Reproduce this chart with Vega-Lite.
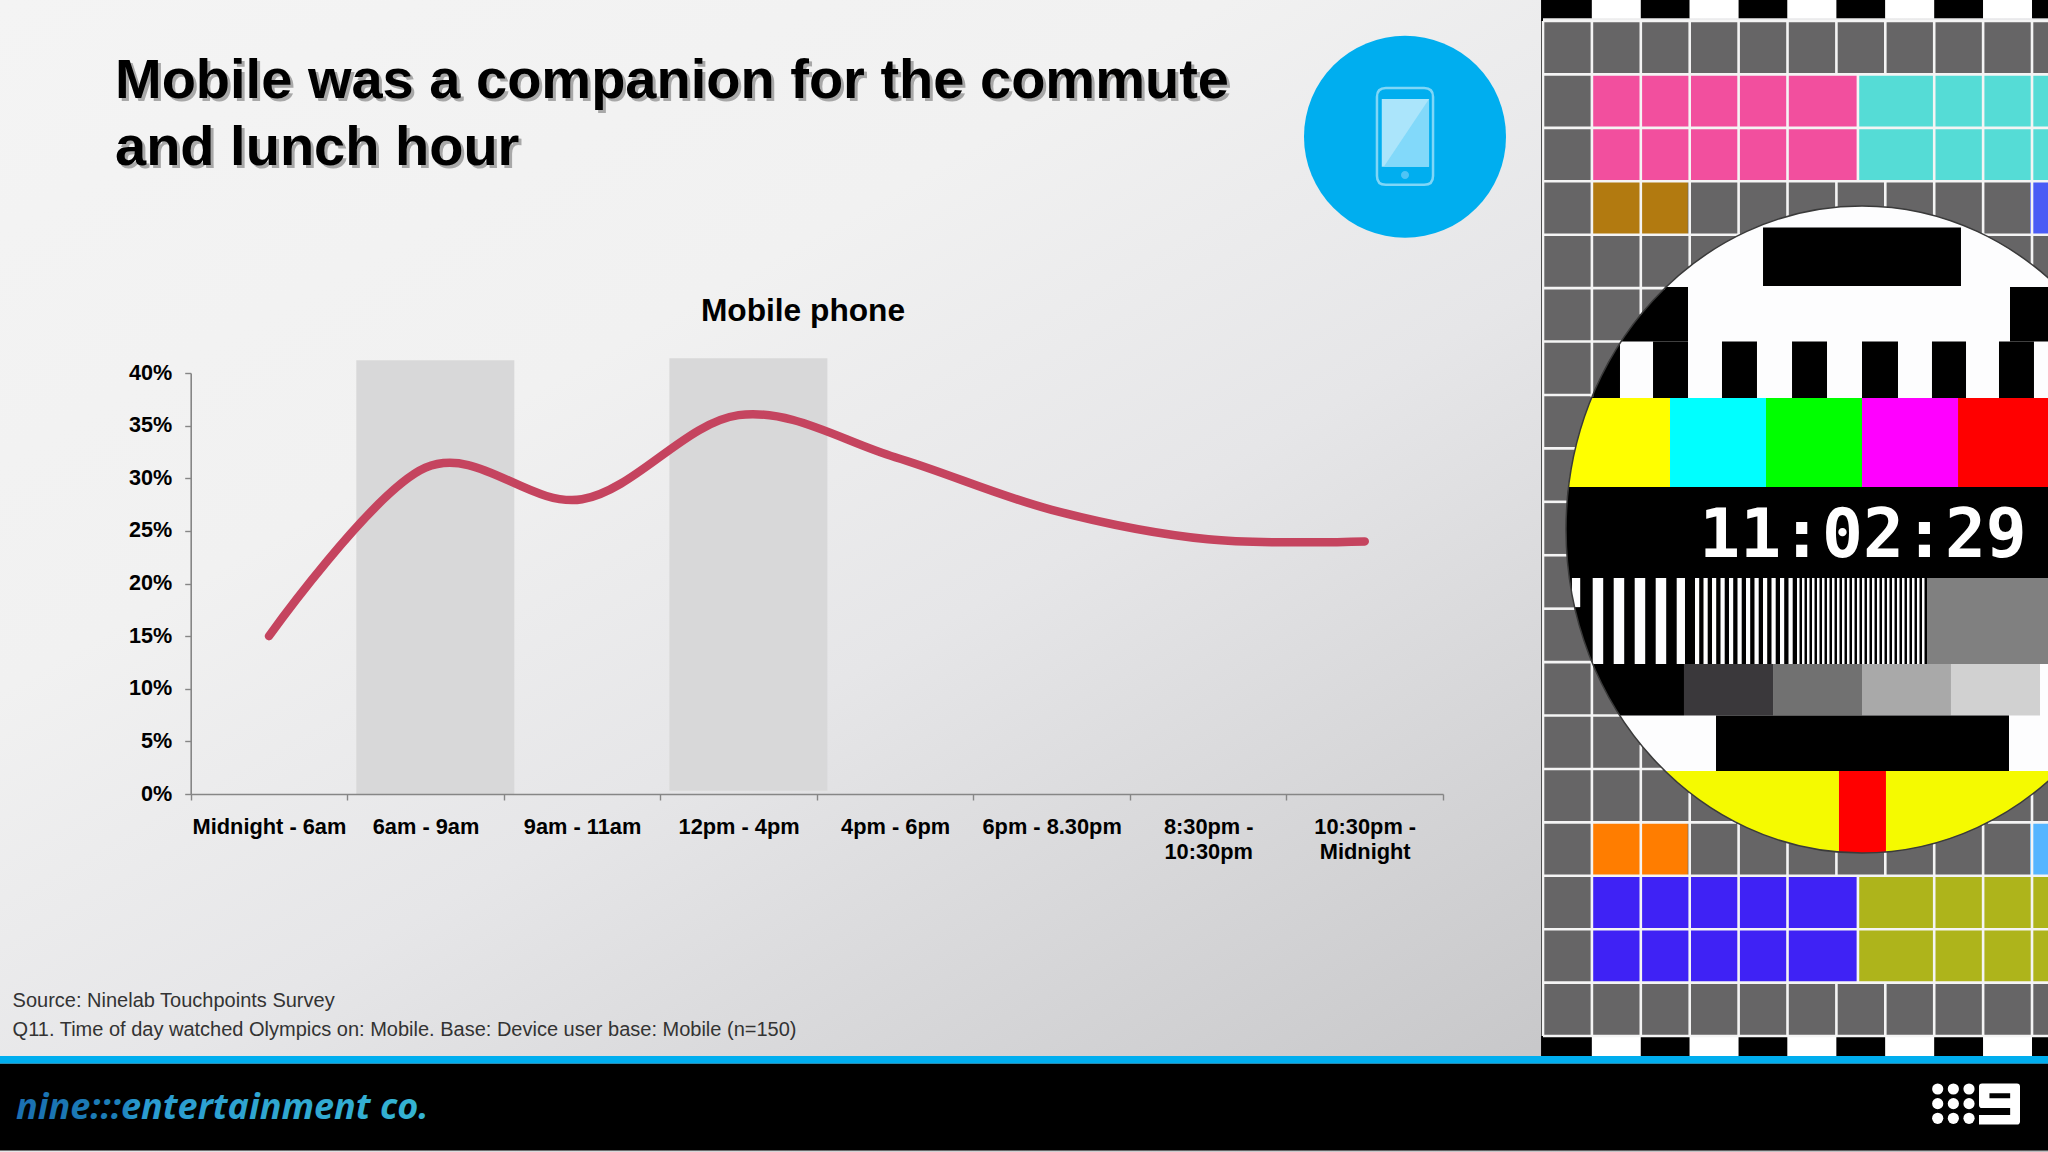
{
"$schema":"https://vega.github.io/schema/vega-lite/v6.json",
"width":2048,"height":1152,"padding":0,"autosize":{"type":"none"},
"background":"#eeeeee",
"config":{"view":{"stroke":null},"font":"Liberation Sans"},
"resolve":{"scale":{"x":"independent","y":"independent","color":"independent","shape":"independent","strokeDash":"independent"},"axis":{"x":"independent","y":"independent"}},
"layer":[
{"data":{"values":[{"area":"slide"}]},"mark":{"type":"rect","fill":{"gradient":"linear","x1":0,"y1":0,"x2":1,"y2":1,"stops":[{"offset":0,"color":"#f4f4f4"},{"offset":0.3,"color":"#f1f1f1"},{"offset":0.5,"color":"#e6e6e8"},{"offset":0.83,"color":"#c8c8ca"},{"offset":1,"color":"#bcbcbe"}]}},"encoding":{}},

{"data":{"values":[
{"u0":0,"u1":100,"v0":0,"v1":100,"tone":"white"},
{"u0":33.28,"u1":66.72,"v0":3.32,"v1":12.36,"tone":"black"},
{"u0":0,"u1":20.61,"v0":12.52,"v1":20.94,"tone":"black"},
{"u0":75,"u1":100,"v0":12.52,"v1":20.94,"tone":"black"},
{"u0":0,"u1":9.12,"v0":20.94,"v1":29.68,"tone":"black"},
{"u0":14.7,"u1":20.61,"v0":20.94,"v1":29.68,"tone":"black"},
{"u0":26.35,"u1":32.26,"v0":20.94,"v1":29.68,"tone":"black"},
{"u0":38.18,"u1":44.09,"v0":20.94,"v1":29.68,"tone":"black"},
{"u0":50,"u1":56.08,"v0":20.94,"v1":29.68,"tone":"black"},
{"u0":61.82,"u1":67.57,"v0":20.94,"v1":29.68,"tone":"black"},
{"u0":73.14,"u1":79.05,"v0":20.94,"v1":29.68,"tone":"black"},
{"u0":0,"u1":17.57,"v0":29.68,"v1":43.43,"tone":"yellow"},
{"u0":17.57,"u1":33.78,"v0":29.68,"v1":43.43,"tone":"cyan"},
{"u0":33.78,"u1":50,"v0":29.68,"v1":43.43,"tone":"green"},
{"u0":50,"u1":66.22,"v0":29.68,"v1":43.43,"tone":"magenta"},
{"u0":66.22,"u1":100,"v0":29.68,"v1":43.43,"tone":"red"},
{"u0":0,"u1":100,"v0":43.43,"v1":70.79,"tone":"black"},
{"u0":60.98,"u1":100,"v0":57.5,"v1":70.79,"tone":"grey50"},
{"u0":1.0,"u1":2.4,"v0":57.5,"v1":62,"tone":"white"},
{"u0":0,"u1":19.93,"v0":70.79,"v1":78.75,"tone":"black"},
{"u0":19.93,"u1":34.97,"v0":70.79,"v1":78.75,"tone":"grey20"},
{"u0":34.97,"u1":50,"v0":70.79,"v1":78.75,"tone":"grey40"},
{"u0":50,"u1":65.03,"v0":70.79,"v1":78.75,"tone":"grey65"},
{"u0":65.03,"u1":80.07,"v0":70.79,"v1":78.75,"tone":"grey80"},
{"u0":25.34,"u1":74.83,"v0":78.75,"v1":87.33,"tone":"black"},
{"u0":0,"u1":46.11,"v0":87.33,"v1":100,"tone":"lemon"},
{"u0":46.11,"u1":54.05,"v0":87.33,"v1":100,"tone":"red"},
{"u0":54.05,"u1":100,"v0":87.33,"v1":100,"tone":"lemon"}
]},"mark":{"type":"rect"},"encoding":{
"x":{"field":"u0","type":"quantitative","axis":null,"scale":{"domain":[0,100],"range":[1566,2158],"nice":false,"zero":false}},
"x2":{"field":"u1"},
"y":{"field":"v0","type":"quantitative","axis":null,"scale":{"domain":[0,100],"range":[206,853],"nice":false,"zero":false}},
"y2":{"field":"v1"},
"color":{"field":"tone","type":"nominal","legend":null,"scale":{"domain":["white","black","yellow","cyan","green","magenta","red","grey50","grey20","grey40","grey65","grey80","lemon"],"range":["#fdfdfe","#000000","#ffff00","#00ffff","#00ff00","#ff00ff","#ff0000","#808080","#3a383b","#717171","#a9a9a9","#d1d1d1","#f5fa00"]}}
}},

{"data":{"values":[
{"u0":4.51,"u1":20.1,"v":64.14,"zone":"wide"},
{"u0":21.79,"u1":39.02,"v":64.14,"zone":"medium"},
{"u0":39.02,"u1":60.98,"v":64.14,"zone":"fine"}
]},"mark":{"type":"rule","strokeWidth":86,"color":"#fdfdfe"},"encoding":{
"x":{"field":"u0","type":"quantitative","axis":null,"scale":{"domain":[0,100],"range":[1566,2158],"nice":false,"zero":false}},
"x2":{"field":"u1"},
"y":{"field":"v","type":"quantitative","axis":null,"scale":{"domain":[0,100],"range":[206,853],"nice":false,"zero":false}},
"strokeDash":{"field":"zone","type":"nominal","legend":null,"scale":{"domain":["wide","medium","fine"],"range":[[10.5,10.5],[4.2,4.3],[2.5,2.5]]}}
}},

{"data":{"values":[{"part":"card surround"}]},"mark":{"type":"point","filled":true,"opacity":1,"color":"#666566","size":1440000,"shape":"M-0.5333,-0.8475 L0.31,-0.8475 L0.31,0.8442 L-0.5333,0.8442 Z M-0.4933,0 A0.4933,0.5392 0 1,0 0.4933,0 A0.4933,0.5392 0 1,0 -0.4933,0 Z"},"encoding":{
"x":{"field":"part","type":"nominal","axis":null,"scale":{"type":"point","padding":0,"range":[1862,1862]}},
"y":{"field":"part","type":"nominal","axis":null,"scale":{"type":"point","padding":0,"range":[529.5,529.5]}}
}},

{"data":{"values":[
{"c0":1,"c1":6.44,"r0":1,"r1":3,"tone":"pink"},
{"c0":6.44,"c1":10.33,"r0":1,"r1":3,"tone":"aqua"},
{"c0":1,"c1":2.96,"r0":3,"r1":4,"tone":"brown"},
{"c0":9.96,"c1":10.33,"r0":3,"r1":4,"tone":"blue"},
{"c0":1,"c1":2.96,"r0":15,"r1":16,"tone":"orange"},
{"c0":9.96,"c1":10.33,"r0":15,"r1":16,"tone":"sky"},
{"c0":1,"c1":6.44,"r0":16,"r1":18,"tone":"indigo"},
{"c0":6.44,"c1":10.33,"r0":16,"r1":18,"tone":"olive"},
{"c0":-0.04,"c1":0,"r0":-0.393,"r1":19.375,"tone":"black"},
{"c0":0,"c1":1,"r0":-0.393,"r1":-0.05,"tone":"black"},{"c0":1,"c1":2,"r0":-0.393,"r1":-0.05,"tone":"white"},{"c0":2,"c1":3,"r0":-0.393,"r1":-0.05,"tone":"black"},{"c0":3,"c1":4,"r0":-0.393,"r1":-0.05,"tone":"white"},{"c0":4,"c1":5,"r0":-0.393,"r1":-0.05,"tone":"black"},{"c0":5,"c1":6,"r0":-0.393,"r1":-0.05,"tone":"white"},{"c0":6,"c1":7,"r0":-0.393,"r1":-0.05,"tone":"black"},{"c0":7,"c1":8,"r0":-0.393,"r1":-0.05,"tone":"white"},{"c0":8,"c1":9,"r0":-0.393,"r1":-0.05,"tone":"black"},{"c0":9,"c1":10,"r0":-0.393,"r1":-0.05,"tone":"white"},{"c0":10,"c1":10.33,"r0":-0.393,"r1":-0.05,"tone":"black"},
{"c0":0,"c1":1,"r0":19,"r1":19.375,"tone":"black"},{"c0":1,"c1":2,"r0":19,"r1":19.375,"tone":"white"},{"c0":2,"c1":3,"r0":19,"r1":19.375,"tone":"black"},{"c0":3,"c1":4,"r0":19,"r1":19.375,"tone":"white"},{"c0":4,"c1":5,"r0":19,"r1":19.375,"tone":"black"},{"c0":5,"c1":6,"r0":19,"r1":19.375,"tone":"white"},{"c0":6,"c1":7,"r0":19,"r1":19.375,"tone":"black"},{"c0":7,"c1":8,"r0":19,"r1":19.375,"tone":"white"},{"c0":8,"c1":9,"r0":19,"r1":19.375,"tone":"black"},{"c0":9,"c1":10,"r0":19,"r1":19.375,"tone":"white"},{"c0":10,"c1":10.33,"r0":19,"r1":19.375,"tone":"black"}
]},"mark":{"type":"rect"},"encoding":{
"x":{"field":"c0","type":"quantitative","axis":null,"scale":{"domain":[0,10.327],"range":[1543,2048],"nice":false,"zero":false}},
"x2":{"field":"c1"},
"y":{"field":"r0","type":"quantitative","axis":null,"scale":{"domain":[-0.393,21.17],"range":[0,1152],"nice":false,"zero":false}},
"y2":{"field":"r1"},
"color":{"field":"tone","type":"nominal","legend":null,"scale":{"domain":["pink","aqua","brown","blue","orange","sky","indigo","olive","black","white"],"range":["#f24f9e","#55dcd6","#b27a10","#4a5cf5","#ff7d00","#55b5ff","#3f22f5","#aeb41b","#000000","#ffffff"]}}
}},

{"data":{"values":[
{"c0":0,"c1":0,"r0":0,"r1":19},
{"c0":1,"c1":1,"r0":0,"r1":7.04},{"c0":1,"c1":1,"r0":12,"r1":19},
{"c0":2,"c1":2,"r0":0,"r1":5.49},{"c0":2,"c1":2,"r0":13.55,"r1":19},
{"c0":3,"c1":3,"r0":0,"r1":4.59},{"c0":3,"c1":3,"r0":14.45,"r1":19},
{"c0":4,"c1":4,"r0":0,"r1":4.01},{"c0":4,"c1":4,"r0":15.03,"r1":19},
{"c0":5,"c1":5,"r0":0,"r1":3.65},{"c0":5,"c1":5,"r0":15.39,"r1":19},
{"c0":6,"c1":6,"r0":0,"r1":1},{"c0":6,"c1":6,"r0":3,"r1":3.48},{"c0":6,"c1":6,"r0":15.56,"r1":16},{"c0":6,"c1":6,"r0":18,"r1":19},
{"c0":7,"c1":7,"r0":0,"r1":1},{"c0":7,"c1":7,"r0":3,"r1":3.48},{"c0":7,"c1":7,"r0":15.56,"r1":16},{"c0":7,"c1":7,"r0":18,"r1":19},
{"c0":6.44,"c1":6.44,"r0":1,"r1":3},{"c0":6.44,"c1":6.44,"r0":16,"r1":18},
{"c0":8,"c1":8,"r0":0,"r1":3.64},{"c0":8,"c1":8,"r0":15.4,"r1":19},
{"c0":9,"c1":9,"r0":0,"r1":3.99},{"c0":9,"c1":9,"r0":15.05,"r1":19},
{"c0":10,"c1":10,"r0":0,"r1":4.57},{"c0":10,"c1":10,"r0":14.47,"r1":19},
{"c0":0,"c1":10.33,"r0":0,"r1":0},{"c0":0,"c1":10.33,"r0":1,"r1":1},{"c0":0,"c1":10.33,"r0":2,"r1":2},{"c0":0,"c1":10.33,"r0":3,"r1":3},
{"c0":0,"c1":4.03,"r0":4,"r1":4},{"c0":9.02,"c1":10.33,"r0":4,"r1":4},
{"c0":0,"c1":2.49,"r0":5,"r1":5},{"c0":0,"c1":1.6,"r0":6,"r1":6},{"c0":0,"c1":1.02,"r0":7,"r1":7},{"c0":0,"c1":0.66,"r0":8,"r1":8},{"c0":0,"c1":0.49,"r0":9,"r1":9},{"c0":0,"c1":0.49,"r0":10,"r1":10},{"c0":0,"c1":0.65,"r0":11,"r1":11},{"c0":0,"c1":1,"r0":12,"r1":12},{"c0":0,"c1":1.57,"r0":13,"r1":13},{"c0":0,"c1":2.45,"r0":14,"r1":14},
{"c0":0,"c1":3.95,"r0":15,"r1":15},{"c0":9.1,"c1":10.33,"r0":15,"r1":15},
{"c0":0,"c1":10.33,"r0":16,"r1":16},{"c0":0,"c1":10.33,"r0":17,"r1":17},{"c0":0,"c1":10.33,"r0":18,"r1":18},{"c0":0,"c1":10.33,"r0":19,"r1":19}
]},"mark":{"type":"rule","strokeWidth":2.6,"color":"#f4f4f4"},"encoding":{
"x":{"field":"c0","type":"quantitative","axis":null,"scale":{"domain":[0,10.327],"range":[1543,2048],"nice":false,"zero":false}},
"x2":{"field":"c1"},
"y":{"field":"r0","type":"quantitative","axis":null,"scale":{"domain":[-0.393,21.17],"range":[0,1152],"nice":false,"zero":false}},
"y2":{"field":"r1"}
}},

{"data":{"values":[{"part":"card outline"}]},"mark":{"type":"point","filled":false,"opacity":1,"stroke":"#3a3a3a","strokeWidth":1.5,"size":1440000,"shape":"M-0.4933,0 A0.4933,0.5392 0 1,0 0.4933,0 A0.4933,0.5392 0 1,0 -0.4933,0 Z"},"encoding":{
"x":{"field":"part","type":"nominal","axis":null,"scale":{"type":"point","padding":0,"range":[1862,1862]}},
"y":{"field":"part","type":"nominal","axis":null,"scale":{"type":"point","padding":0,"range":[529.5,529.5]}}
}},

{"data":{"values":[{"clock":"11:02:29"}]},"mark":{"type":"text","font":"DejaVu Sans Mono","fontWeight":"bold","fontSize":68,"fill":"#ffffff","align":"center","baseline":"alphabetic"},"encoding":{
"text":{"field":"clock"},
"x":{"field":"clock","type":"nominal","axis":null,"scale":{"type":"point","padding":0,"range":[1863,1863]}},
"y":{"field":"clock","type":"nominal","axis":null,"scale":{"type":"point","padding":0,"range":[557,557]}}
}},

{"data":{"values":[{"r0":19.375,"r1":19.52,"tone":"rule"},{"r0":19.52,"r1":21.14,"tone":"bar"}]},"mark":{"type":"rect"},"encoding":{
"y":{"field":"r0","type":"quantitative","axis":null,"scale":{"domain":[-0.393,21.17],"range":[0,1152],"nice":false,"zero":false}},
"y2":{"field":"r1"},
"color":{"field":"tone","type":"nominal","legend":null,"scale":{"domain":["rule","bar"],"range":["#00aeef","#000000"]}}
}},

{"data":{"values":[{"logo":"nine:::entertainment co."}]},"mark":{"type":"text","font":"Open Sans","fontWeight":"bold","fontStyle":"italic","fontSize":36,"align":"left","baseline":"alphabetic","fill":{"gradient":"linear","x1":0,"y1":0,"x2":1,"y2":0,"stops":[{"offset":0,"color":"#1a6fb0"},{"offset":0.25,"color":"#1c7fb8"},{"offset":0.3,"color":"#2a9bd0"},{"offset":1,"color":"#35b4d2"}]}},"encoding":{
"text":{"field":"logo"},
"x":{"field":"logo","type":"nominal","axis":null,"scale":{"type":"point","padding":0,"range":[16,16]}},
"y":{"field":"logo","type":"nominal","axis":null,"scale":{"type":"point","padding":0,"range":[1119,1119]}}
}},

{"data":{"values":[{"gx":"a","gy":"a"},{"gx":"b","gy":"a"},{"gx":"c","gy":"a"},{"gx":"a","gy":"b"},{"gx":"b","gy":"b"},{"gx":"c","gy":"b"},{"gx":"a","gy":"c"},{"gx":"b","gy":"c"},{"gx":"c","gy":"c"}]},"mark":{"type":"point","filled":true,"opacity":1,"color":"#ffffff","shape":"circle","size":125},"encoding":{
"x":{"field":"gx","type":"nominal","axis":null,"scale":{"type":"point","padding":0,"range":[1937.7,1969]}},
"y":{"field":"gy","type":"nominal","axis":null,"scale":{"type":"point","padding":0,"range":[1089,1118.3]}}
}},

{"data":{"values":[{"part":"nine"}]},"mark":{"type":"point","filled":true,"opacity":1,"color":"#ffffff","size":1681,"shape":"M-0.85,-1 L0.85,-1 Q1,-1 1,-0.85 L1,0.85 Q1,1 0.85,1 L-1,1 L-1,0.54 L0.52,0.54 L0.52,0.2 L-0.85,0.2 Q-1,0.2 -1,0.05 L-1,-0.85 Q-1,-1 -0.85,-1 Z M-0.49,-0.52 L-0.49,-0.28 L0.52,-0.28 L0.52,-0.52 Z"},"encoding":{
"x":{"field":"part","type":"nominal","axis":null,"scale":{"type":"point","padding":0,"range":[1999.5,1999.5]}},
"y":{"field":"part","type":"nominal","axis":null,"scale":{"type":"point","padding":0,"range":[1104,1104]}}
}},

{"data":{"values":[{"part":"disc"},{"part":"case"},{"part":"screen"},{"part":"glare"},{"part":"button"}]},"mark":{"type":"point","filled":true,"opacity":1,"size":40804},"encoding":{
"x":{"field":"part","type":"nominal","axis":null,"scale":{"type":"point","padding":0,"range":[1405,1405]}},
"y":{"field":"part","type":"nominal","axis":null,"scale":{"type":"point","padding":0,"range":[136.7,136.7]}},
"shape":{"field":"part","type":"nominal","legend":null,"scale":{"domain":["disc","case","screen","glare","button"],"range":["circle","M-0.19,-0.495 L0.19,-0.495 Q0.29,-0.495 0.29,-0.395 L0.29,0.388 Q0.29,0.488 0.19,0.488 L-0.19,0.488 Q-0.29,0.488 -0.29,0.388 L-0.29,-0.395 Q-0.29,-0.495 -0.19,-0.495 Z M-0.19,-0.47 Q-0.265,-0.47 -0.265,-0.395 L-0.265,0.388 Q-0.265,0.463 -0.19,0.463 L0.19,0.463 Q0.265,0.463 0.265,0.388 L0.265,-0.395 Q0.265,-0.47 0.19,-0.47 Z","M-0.23,-0.373 L0.238,-0.373 L0.238,0.297 L-0.23,0.297 Z","M0.238,-0.373 L0.238,0.297 L-0.21,0.297 Z","M-0.04,0.38 A0.04,0.04 0 1,0 0.04,0.38 A0.04,0.04 0 1,0 -0.04,0.38 Z"]}},
"color":{"field":"part","type":"nominal","legend":null,"scale":{"domain":["disc","case","screen","glare","button"],"range":["#00aeef","#7fd6f7","#abe5fb","#82d9fa","#4fc4f5"]}}
}},

{"data":{"values":[{"block":"headline","line":"Mobile was a companion for the commute"},{"block":"headline","line":"and lunch hour"}]},"mark":{"type":"text","fontWeight":"bold","fontSize":56,"fill":"#777777","opacity":0.6,"align":"left","baseline":"alphabetic","dx":3,"dy":3},"encoding":{
"text":{"field":"line"},
"x":{"field":"block","type":"nominal","axis":null,"scale":{"type":"point","padding":0,"range":[115,115]}},
"y":{"field":"line","type":"nominal","sort":null,"axis":null,"scale":{"type":"point","padding":0,"range":[98,165]}}
}},
{"data":{"values":[{"block":"headline","line":"Mobile was a companion for the commute"},{"block":"headline","line":"and lunch hour"}]},"mark":{"type":"text","fontWeight":"bold","fontSize":56,"fill":"#000000","align":"left","baseline":"alphabetic"},"encoding":{
"text":{"field":"line"},
"x":{"field":"block","type":"nominal","axis":null,"scale":{"type":"point","padding":0,"range":[115,115]}},
"y":{"field":"line","type":"nominal","sort":null,"axis":null,"scale":{"type":"point","padding":0,"range":[98,165]}}
}},

{"data":{"values":[{"block":"notes","line":"Source: Ninelab Touchpoints Survey"},{"block":"notes","line":"Q11. Time of day watched Olympics on: Mobile. Base: Device user base: Mobile (n=150)"}]},"mark":{"type":"text","fontSize":20,"fill":"#333333","align":"left","baseline":"alphabetic"},"encoding":{
"text":{"field":"line"},
"x":{"field":"block","type":"nominal","axis":null,"scale":{"type":"point","padding":0,"range":[12.6,12.6]}},
"y":{"field":"line","type":"nominal","sort":null,"axis":null,"scale":{"type":"point","padding":0,"range":[1007,1036]}}
}},

{"data":{"values":[{"heading":"Mobile phone"}]},"mark":{"type":"text","fontWeight":"bold","fontSize":31.7,"fill":"#000000","align":"center","baseline":"alphabetic"},"encoding":{
"text":{"field":"heading"},
"x":{"field":"heading","type":"nominal","axis":null,"scale":{"type":"point","padding":0,"range":[803,803]}},
"y":{"field":"heading","type":"nominal","axis":null,"scale":{"type":"point","padding":0,"range":[321,321]}}
}},

{"data":{"values":[{"period":"6am - 9am","low":0,"high":41.2},{"period":"12pm - 4pm","low":0.3,"high":41.4}]},"mark":{"type":"bar","fill":"#d8d8d9","width":158,"xOffset":9.8},"encoding":{
"x":{"field":"period","type":"nominal","sort":null,"axis":null,"scale":{"type":"band","paddingInner":0,"paddingOuter":0,"domain":["Midnight - 6am","6am - 9am","9am - 11am","12pm - 4pm","4pm - 6pm","6pm - 8.30pm","8:30pm - 10:30pm","10:30pm - Midnight"],"range":[190.7,1443]}},
"y":{"field":"low","type":"quantitative","axis":null,"scale":{"domain":[0,40],"range":[794,373],"nice":false,"zero":true}},
"y2":{"field":"high"}
}},

{"data":{"values":[
{"period":"Midnight - 6am","share":15},
{"period":"6am - 9am","share":31},
{"period":"9am - 11am","share":28},
{"period":"12pm - 4pm","share":36},
{"period":"4pm - 6pm","share":32},
{"period":"6pm - 8.30pm","share":27},
{"period":"8:30pm - 10:30pm","share":24.2},
{"period":"10:30pm - Midnight","share":24}
]},"mark":{"type":"line","interpolate":"cardinal","tension":0,"color":"#c5445f","strokeWidth":8.5,"strokeCap":"round","strokeJoin":"round"},"encoding":{
"x":{"field":"period","type":"nominal","sort":null,"title":null,"scale":{"type":"band","paddingInner":0,"paddingOuter":0,"domain":["Midnight - 6am","6am - 9am","9am - 11am","12pm - 4pm","4pm - 6pm","6pm - 8.30pm","8:30pm - 10:30pm","10:30pm - Midnight"],"range":[190.7,1443]},
"axis":{"orient":"bottom","offset":-358,"zindex":1,"tickBand":"extent","grid":false,"labelAngle":0,"labelFont":"Liberation Sans","labelFontWeight":"bold","labelFontSize":21.8,"labelColor":"#000000","labelPadding":16,"labelLineHeight":25,"labelOverlap":false,"labelLimit":0,"tickSize":6,"tickColor":"#868686","tickWidth":1.4,"domainColor":"#868686","domainWidth":1.6,"labelExpr":"datum.label == '8:30pm - 10:30pm' ? ['8:30pm -','10:30pm'] : datum.label == '10:30pm - Midnight' ? ['10:30pm -','Midnight'] : datum.label"}},
"y":{"field":"share","type":"quantitative","title":null,"scale":{"domain":[0,40],"range":[794,373],"nice":false,"zero":true},
"axis":{"orient":"left","offset":-190.7,"zindex":1,"values":[0,5,10,15,20,25,30,35,40],"grid":false,"labelFont":"Liberation Sans","labelFontWeight":"bold","labelFontSize":21.6,"labelColor":"#000000","labelPadding":13,"tickSize":6,"tickColor":"#868686","tickWidth":1.4,"domainColor":"#868686","domainWidth":1.6,"labelExpr":"datum.value + '%'"}}
}}
]}
